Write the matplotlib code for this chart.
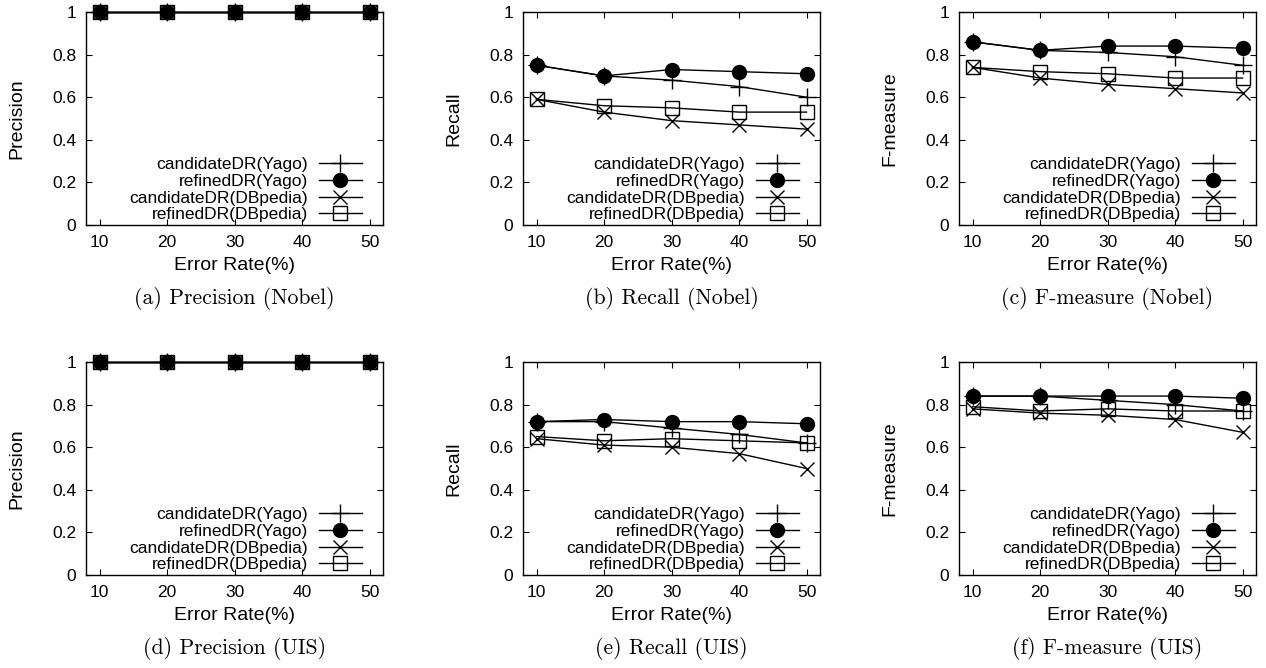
import matplotlib
matplotlib.use("Agg")
import matplotlib.pyplot as plt

# データ
error_rate = [10, 20, 30, 40, 50]
series_names = ["candidateDR(Yago)", "refinedDR(Yago)",
                "candidateDR(DBpedia)", "refinedDR(DBpedia)"]

prec_nobel = [[1, 1, 1, 1, 1], [1, 1, 1, 1, 1], [1, 1, 1, 1, 1], [1, 1, 1, 1, 1]]
recall_nobel = [[0.75, 0.70, 0.68, 0.65, 0.60],
                [0.75, 0.70, 0.73, 0.72, 0.71],
                [0.59, 0.53, 0.49, 0.47, 0.45],
                [0.59, 0.56, 0.55, 0.53, 0.53]]
fm_nobel = [[0.86, 0.82, 0.81, 0.79, 0.75],
            [0.86, 0.82, 0.84, 0.84, 0.83],
            [0.74, 0.69, 0.66, 0.64, 0.62],
            [0.74, 0.72, 0.71, 0.69, 0.69]]
prec_uis = [[1, 1, 1, 1, 1], [1, 1, 1, 1, 1], [1, 1, 1, 1, 1], [1, 1, 1, 1, 1]]
recall_uis = [[0.72, 0.72, 0.69, 0.66, 0.62],
              [0.72, 0.73, 0.72, 0.72, 0.71],
              [0.64, 0.61, 0.60, 0.57, 0.50],
              [0.65, 0.63, 0.64, 0.63, 0.62]]
fm_uis = [[0.84, 0.84, 0.82, 0.80, 0.77],
          [0.84, 0.84, 0.84, 0.84, 0.83],
          [0.78, 0.76, 0.75, 0.73, 0.67],
          [0.79, 0.77, 0.78, 0.77, 0.77]]

panels = [
    (prec_nobel, "Precision", "(a) Precision (Nobel)"),
    (recall_nobel, "Recall", "(b) Recall (Nobel)"),
    (fm_nobel, "F-measure", "(c) F-measure (Nobel)"),
    (prec_uis, "Precision", "(d) Precision (UIS)"),
    (recall_uis, "Recall", "(e) Recall (UIS)"),
    (fm_uis, "F-measure", "(f) F-measure (UIS)"),
]

styles = [
    dict(marker="+", markersize=13, mfc="none", mew=1.0),
    dict(marker="o", markersize=10, mfc="black", mew=1.0),
    dict(marker="x", markersize=10, mfc="none", mew=1.0),
    dict(marker="s", markersize=9.5, mfc="none", mew=1.0),
]

plt.rcParams["font.family"] = ["Liberation Sans", "DejaVu Sans"]
plt.rcParams["font.size"] = 12.5

W, H = 1266, 668
fig = plt.figure(figsize=(W / 100, H / 100), dpi=100)

lefts = [86, 523, 959]
tops = [12, 362]
aw, ah = 297, 213

for i, (data, ylabel, caption) in enumerate(panels):
    r, c = divmod(i, 3)
    left = lefts[c]
    top = tops[r]
    ax = fig.add_axes([left / W, (H - top - ah) / H, aw / W, ah / H])
    for vals, name, st in zip(data, series_names, styles):
        ax.plot(error_rate, vals, color="black", lw=1.0, mec="black",
                label=name, clip_on=False, **st)
    ax.set_xlim(8, 52)
    ax.set_ylim(0, 1)
    ax.set_xticks(error_rate)
    ax.set_yticks([0, 0.2, 0.4, 0.6, 0.8, 1])
    ax.set_yticklabels(["0", "0.2", "0.4", "0.6", "0.8", "1"])
    ax.tick_params(direction="in", top=True, right=True, length=4, width=0.8,
                   pad=7, labelsize=12.5)
    for sp in ax.spines.values():
        sp.set_linewidth(1.0)
    ax.set_xlabel("Error Rate(%)", fontsize=14, labelpad=5)
    ax.set_ylabel(ylabel, fontsize=14, labelpad=19)
    ax.legend(loc="lower right", bbox_to_anchor=(0.929, 0.012),
              frameon=False, markerfirst=False, handlelength=2.5,
              handletextpad=0.6, labelspacing=0.09, borderaxespad=0.0,
              borderpad=0.0, fontsize=12.5)
    ax.text(0.5, -73 / ah, caption, transform=ax.transAxes, ha="center",
            va="center", fontsize=15.7, family="cmr10")

plt.savefig("out.png", dpi=100)
plt.close("all")
